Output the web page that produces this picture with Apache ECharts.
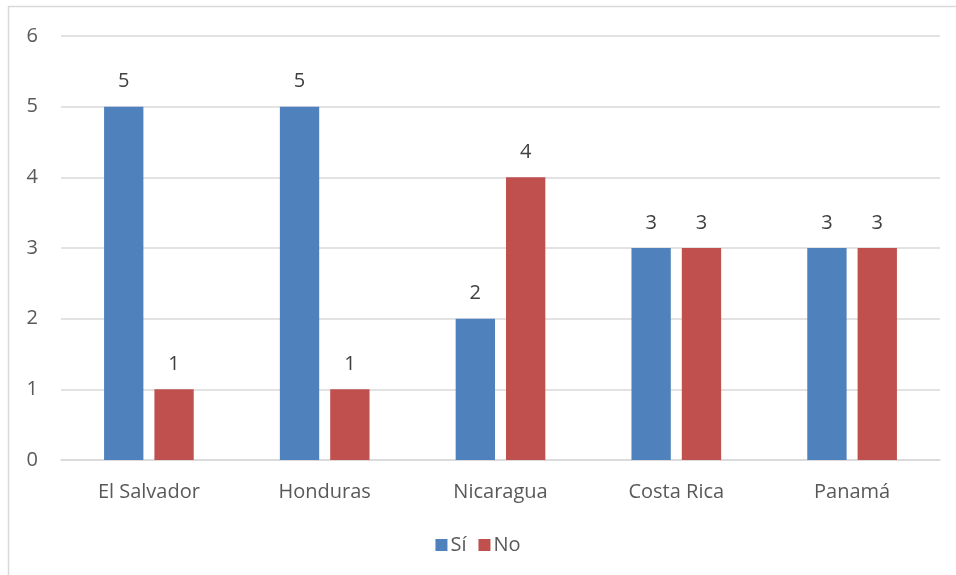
<!DOCTYPE html>
<html>
<head>
<meta charset="utf-8">
<script src="https://cdn.jsdelivr.net/npm/echarts@6/dist/echarts.min.js"></script>
<style>
html, body { margin: 0; padding: 0; background: #fff; }
#main { width: 956px; height: 575px; }
</style>
</head>
<body>
<div id="main"></div>
<script>
var categories = ['El Salvador', 'Honduras', 'Nicaragua', 'Costa Rica', 'Panamá'];
var siValues = [5, 5, 2, 3, 3];
var noValues = [1, 1, 4, 3, 3];
var yTicks = [0, 1, 2, 3, 4, 5, 6];

var dom = document.getElementById('main');
var myChart = echarts.init(dom);
var font = 'Open Sans';
var textColor = '#595959';
var fs = 20;

var option = {
    animation: false,
    textStyle: { fontFamily: font },
    graphic: [{
        type: 'rect',
        shape: { x: 8.5, y: 6.5, width: 1000, height: 1000 },
        style: { fill: 'none', stroke: '#d9d9d9', lineWidth: 1.5 },
        silent: true
    }],
    grid: { left: 61, right: 16, top: 36, bottom: 115, containLabel: false },
    legend: {
        data: ['Sí', 'No'],
        bottom: 15,
        left: 'center',
        icon: 'rect',
        itemWidth: 12,
        itemHeight: 12,
        itemGap: 12,
        textStyle: { color: textColor, fontSize: fs, fontFamily: font, padding: [0, 0, 0, -2] }
    },
    xAxis: {
        type: 'category',
        data: categories,
        axisLine: { lineStyle: { color: '#d9d9d9', width: 1.5 } },
        axisTick: { show: false },
        axisLabel: { color: textColor, fontSize: fs, fontFamily: font, margin: 22 }
    },
    yAxis: {
        type: 'value',
        min: yTicks[0],
        max: yTicks[yTicks.length - 1],
        interval: 1,
        axisLine: { show: false },
        axisTick: { show: false },
        axisLabel: { color: textColor, fontSize: fs, fontFamily: font, margin: 23 },
        splitLine: { lineStyle: { color: '#d9d9d9', width: 1.5 } }
    },
    series: [
        {
            name: 'Sí',
            type: 'bar',
            data: siValues,
            barGap: '28%',
            barCategoryGap: '49%',
            itemStyle: { color: '#4F81BD' },
            label: { show: true, position: 'top', distance: 15, color: '#404040', fontSize: fs, fontFamily: font }
        },
        {
            name: 'No',
            type: 'bar',
            data: noValues,
            itemStyle: { color: '#C0504D' },
            label: { show: true, position: 'top', distance: 15, color: '#404040', fontSize: fs, fontFamily: font }
        }
    ]
};

myChart.setOption(option, true);
</script>
</body>
</html>
